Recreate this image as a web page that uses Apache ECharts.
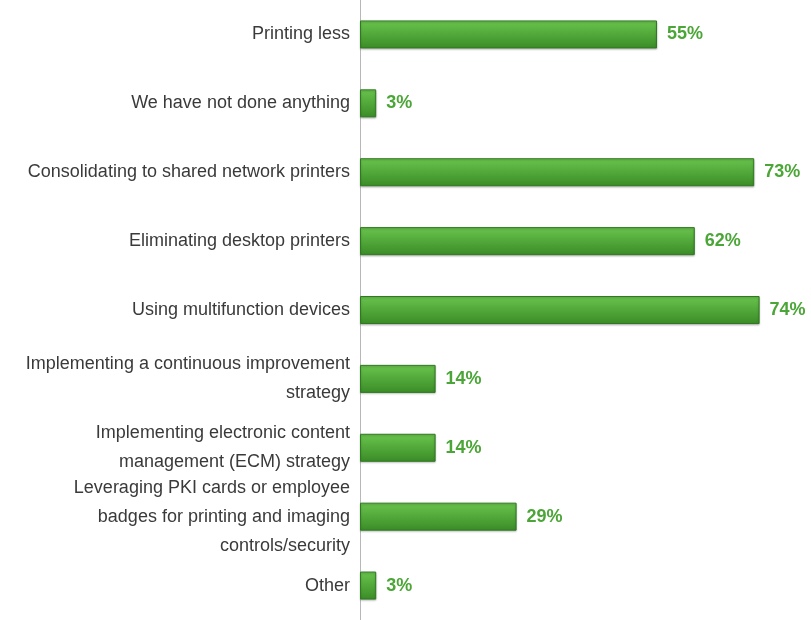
<!DOCTYPE html>
<html>
<head>
<meta charset="utf-8">
<script src="https://cdn.jsdelivr.net/npm/echarts@6/dist/echarts.min.js"></script>
<style>html,body{margin:0;padding:0;background:#fff;}#c{width:811px;height:620px;}</style>
</head>
<body>
<div id="c"></div>
<script>
const categories = [
  "Printing less",
  "We have not done anything",
  "Consolidating to shared network printers",
  "Eliminating desktop printers",
  "Using multifunction devices",
  "Implementing a continuous improvement\nstrategy",
  "Implementing electronic content\nmanagement (ECM) strategy",
  "Leveraging PKI cards or employee\nbadges for printing and imaging\ncontrols/security",
  "Other"
];
const values = [55, 3, 73, 62, 74, 14, 14, 29, 3];

const chart = echarts.init(document.getElementById('c'), null, {renderer: 'canvas'});
chart.setOption({
  animation: false,
  grid: {left: 360, right: 19, top: -2, bottom: -7, containLabel: false},
  xAxis: {
    type: 'value', min: 0, max: 80,
    show: false
  },
  yAxis: {
    type: 'category',
    data: categories,
    inverse: true,
    axisLine: {show: true, lineStyle: {color: '#b8b8b8', width: 1}},
    axisTick: {show: false},
    splitLine: {show: false},
    axisLabel: {
      color: '#3a3a3a',
      fontFamily: 'Liberation Sans, Arial, Helvetica, sans-serif',
      fontSize: 18,
      lineHeight: 29,
      margin: 10,
      align: 'right'
    }
  },
  series: [{
    type: 'bar',
    data: values,
    barWidth: 28,
    itemStyle: {
      color: new echarts.graphic.LinearGradient(0, 0, 0, 1, [
        {offset: 0, color: '#74c957'},
        {offset: 0.08, color: '#66c04a'},
        {offset: 1, color: '#3a8c27'}
      ]),
      borderColor: '#2f7a20',
      borderWidth: 1,
      shadowColor: 'rgba(0,0,0,0.25)',
      shadowBlur: 2,
      shadowOffsetY: 1
    },
    label: {
      show: true,
      position: 'right',
      distance: 10,
      formatter: '{c}%',
      color: '#4ba637',
      fontFamily: 'Liberation Sans, Arial, Helvetica, sans-serif',
      fontWeight: 'bold',
      fontSize: 18
    }
  }]
});
</script>
</body>
</html>
